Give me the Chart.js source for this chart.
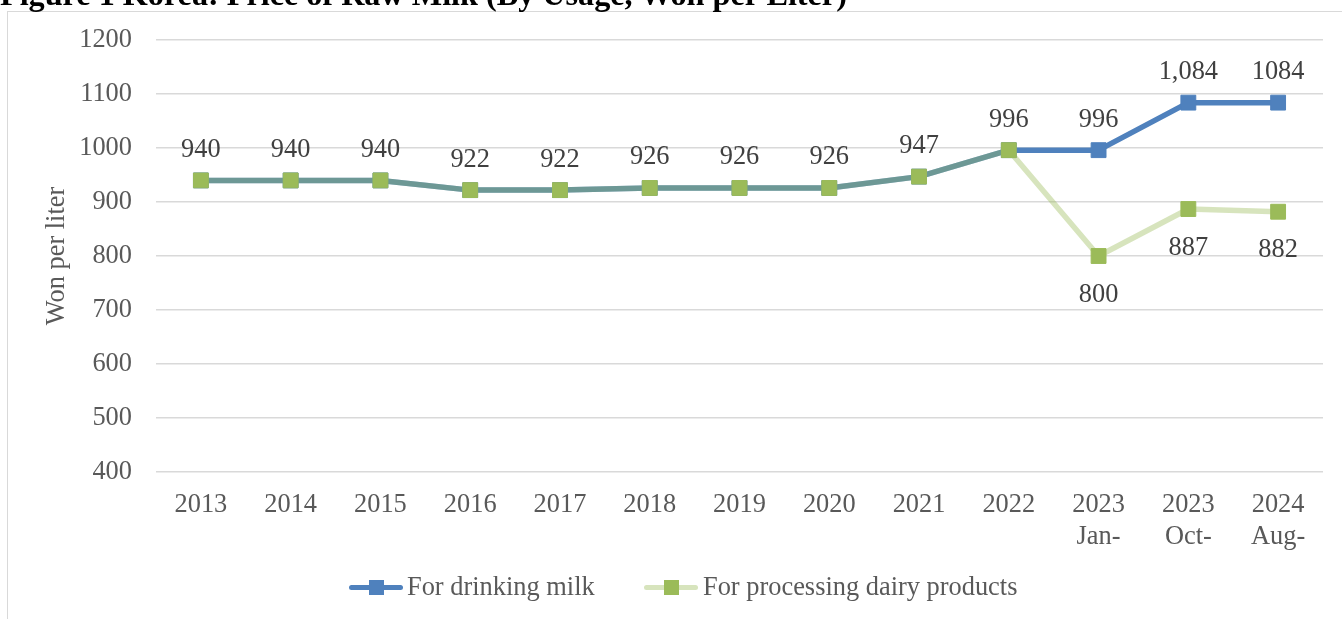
<!DOCTYPE html>
<html>
<head>
<meta charset="utf-8">
<script src="https://cdn.jsdelivr.net/npm/chart.js@4.4.1/dist/chart.umd.min.js"></script>
<style>
  html, body { margin: 0; padding: 0; background: #fff; overflow: hidden; }
  #wrap { position: relative; width: 1342px; height: 619px; overflow: hidden; }
  #frame { position: absolute; left: 7px; top: 11px; width: 1400px; height: 700px;
           border-left: 1.5px solid #d9d9d9; border-top: 1.5px solid #d9d9d9; }
  #title { position: absolute; left: 0px; top: -22px; font: bold 32.2px "Liberation Serif", serif;
           line-height: 32px; color: #000; white-space: nowrap; }
  canvas { position: absolute; left: 0; top: 0; }
  .lg-line { position: absolute; height: 5px; border-radius: 3px; }
  .lg-mark { position: absolute; width: 15px; height: 15px; }
  .lg-text { position: absolute; font: 26.4px "Liberation Serif", serif; line-height: 30px;
             color: #595959; white-space: nowrap; }
</style>
</head>
<body>
<div id="wrap">
  <div id="frame"></div>
  <canvas id="c" width="1342" height="619"></canvas>
  <div id="title">Figure 1 Korea: Price of Raw Milk (By Usage, Won per Liter)</div>
  <div id="legend"></div>
</div>
<script>
// ---- data ----
const categories = [['2013'], ['2014'], ['2015'], ['2016'], ['2017'], ['2018'], ['2019'],
  ['2020'], ['2021'], ['2022'], ['2023', 'Jan-'], ['2023', 'Oct-'], ['2024', 'Aug-']];
const seriesNames = ['For drinking milk', 'For processing dairy products'];
const drinkingMilk = [940, 940, 940, 922, 922, 926, 926, 926, 947, 996, 996, 1084, 1084];
const processingDairy = [940, 940, 940, 922, 922, 926, 926, 926, 947, 996, 800, 887, 882];
const drinkingLabels = ['940', '940', '940', '922', '922', '926', '926', '926', '947', '996', '996', '1,084', '1084'];
const processingLabels = [null, null, null, null, null, null, null, null, null, null, '800', '887', '882'];
const yMin = 400, yMax = 1200, yStep = 100;
const yTitle = 'Won per liter';

// ---- styles ----
const BLUE = '#4F81BD';
const GREEN = '#9BBB59';
const GREEN_LINE = 'rgba(155,187,89,0.4)';
const GREEN_LINE_SOLID = '#D7E4BD';
const FONT = '"Liberation Serif", "Times New Roman", serif';
const FS = 26.4;

const labelSets = [drinkingLabels, processingLabels];
const labelPlacement = ['above', 'below'];

const dataLabelPlugin = {
  id: 'dataLabels',
  afterDatasetsDraw(chart) {
    const ctx = chart.ctx;
    ctx.save();
    ctx.font = FS + 'px ' + FONT;
    ctx.fillStyle = '#404040';
    ctx.textAlign = 'center';
    ctx.textBaseline = 'alphabetic';
    chart.data.datasets.forEach((ds, di) => {
      const meta = chart.getDatasetMeta(di);
      const labels = labelSets[di];
      meta.data.forEach((pt, i) => {
        const t = labels[i];
        if (t == null) return;
        const y = labelPlacement[di] === 'above' ? pt.y - 23.5 : pt.y + 45.5;
        ctx.fillText(t, pt.x, y);
      });
    });
    ctx.restore();
  }
};

new Chart(document.getElementById('c'), {
  type: 'line',
  data: {
    labels: categories,
    datasets: [
      {
        label: seriesNames[0],
        data: drinkingMilk,
        borderColor: BLUE,
        backgroundColor: BLUE,
        borderWidth: 5.5,
        borderJoinStyle: 'round',
        pointStyle: 'rect',
        pointRadius: 10.5,
        pointBackgroundColor: BLUE,
        pointBorderColor: BLUE,
        pointBorderWidth: 1,
        tension: 0,
        order: 1
      },
      {
        label: seriesNames[1],
        data: processingDairy,
        borderColor: GREEN_LINE,
        backgroundColor: GREEN,
        borderWidth: 5.5,
        borderJoinStyle: 'round',
        pointStyle: 'rect',
        pointRadius: 10.5,
        pointBackgroundColor: GREEN,
        pointBorderColor: GREEN,
        pointBorderWidth: 1,
        tension: 0,
        order: 0
      }
    ]
  },
  options: {
    responsive: false,
    animation: false,
    devicePixelRatio: 1,
    events: [],
    layout: { padding: { left: 41, right: 19, top: 40, bottom: 66 } },
    plugins: {
      legend: { display: false },
      tooltip: { enabled: false },
      title: { display: false }
    },
    scales: {
      x: {
        type: 'category',
        offset: true,
        grid: { display: false, drawTicks: false },
        border: { display: false },
        ticks: {
          color: '#595959',
          font: { family: FONT, size: FS, lineHeight: 32 / FS },
          padding: 17,
          maxRotation: 0,
          autoSkip: false
        },
        afterFit(scale) { scale.height = 81; }
      },
      y: {
        min: yMin,
        max: yMax,
        grid: { color: '#d9d9d9', lineWidth: 1.5, drawTicks: false },
        border: { display: false },
        ticks: {
          stepSize: yStep,
          color: '#595959',
          font: { family: FONT, size: FS },
          padding: 24,
          callback: (v) => String(v)
        },
        title: {
          display: true,
          text: yTitle,
          color: '#595959',
          font: { family: FONT, size: FS, lineHeight: 1.2 },
          padding: { top: 0, bottom: 0 }
        },
        afterFit(scale) { scale.width = 115; }
      }
    }
  },
  plugins: [dataLabelPlugin]
});

// ---- legend (HTML) ----
const legendItems = [
  { text: seriesNames[0], line: BLUE, mark: BLUE, lineX: 349, textX: 407 },
  { text: seriesNames[1], line: GREEN_LINE_SOLID, mark: GREEN, lineX: 644, textX: 703 }
];
const lg = document.getElementById('legend');
legendItems.forEach(it => {
  const l = document.createElement('div');
  l.className = 'lg-line';
  l.style.left = it.lineX + 'px'; l.style.top = '584.5px'; l.style.width = '54px';
  l.style.background = it.line;
  lg.appendChild(l);
  const m = document.createElement('div');
  m.className = 'lg-mark';
  m.style.left = (it.lineX + 27 - 7.5) + 'px'; m.style.top = '579.5px';
  m.style.background = it.mark;
  lg.appendChild(m);
  const t = document.createElement('div');
  t.className = 'lg-text';
  t.style.left = it.textX + 'px'; t.style.top = '571px';
  t.textContent = it.text;
  lg.appendChild(t);
});
</script>
</body>
</html>
